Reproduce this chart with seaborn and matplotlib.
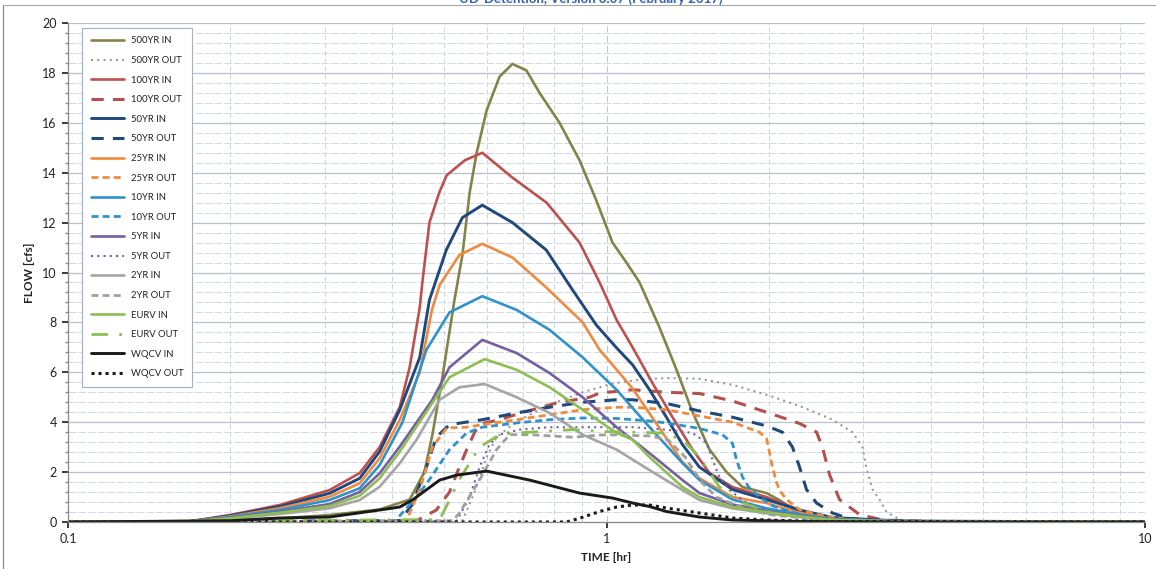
import matplotlib
matplotlib.use("Agg")
import matplotlib.pyplot as plt
import matplotlib.ticker as mticker
from matplotlib.lines import Line2D
import seaborn as sns

# inflow / outflow hydrographs (time in hr, flow in cfs)
t_500_in = [0.1, 0.2, 0.25, 0.306, 0.379, 0.431, 0.459, 0.475, 0.494, 0.522, 0.540, 0.557, 0.574, 0.599, 0.633, 0.669, 0.710, 0.751, 0.818, 0.891, 0.957, 1.026, 1.089, 1.152, 1.254, 1.349, 1.445, 1.554, 1.671, 1.789, 1.982, 2.095, 2.283, 2.629, 3.5, 10]
q_500_in = [0, 0.05, 0.15, 0.28, 0.5, 0.9, 2.0, 3.5, 5.6, 8.9, 10.7, 13.2, 14.8, 16.5, 17.85, 18.36, 18.1, 17.2, 16.0, 14.5, 12.9, 11.2, 10.4, 9.6, 7.8, 6.1, 4.4, 2.9, 2.0, 1.4, 1.16, 0.88, 0.36, 0.1, 0.02, 0]
t_500_out = [0.1, 0.540, 0.569, 0.599, 0.625, 0.669, 0.720, 0.807, 0.903, 1.026, 1.166, 1.292, 1.488, 1.714, 1.982, 2.283, 2.629, 2.863, 2.988, 3.040, 3.119, 3.214, 3.311, 3.501, 3.8, 10]
q_500_out = [0, 0.05, 1.2, 2.6, 3.4, 3.9, 4.3, 4.8, 5.2, 5.55, 5.72, 5.77, 5.74, 5.5, 5.1, 4.65, 4.1, 3.6, 3.0, 2.15, 1.3, 0.9, 0.4, 0.1, 0.03, 0]

t_100_in = [0.1, 0.168, 0.2, 0.247, 0.306, 0.348, 0.379, 0.413, 0.431, 0.450, 0.455, 0.469, 0.489, 0.505, 0.546, 0.588, 0.669, 0.774, 0.891, 0.971, 1.044, 1.118, 1.217, 1.326, 1.445, 1.554, 1.714, 1.982, 2.283, 2.629, 3.5, 10]
q_100_in = [0, 0.02, 0.28, 0.68, 1.28, 1.96, 3.0, 4.6, 6.2, 8.6, 9.6, 12.0, 13.2, 13.9, 14.5, 14.8, 13.8, 12.8, 11.2, 9.6, 8.1, 7.0, 5.57, 4.2, 2.9, 1.96, 1.4, 1.0, 0.48, 0.16, 0.03, 0]
t_100_out = [0.1, 0.444, 0.483, 0.511, 0.533, 0.550, 0.569, 0.588, 0.633, 0.689, 0.807, 0.930, 0.971, 1.118, 1.292, 1.488, 1.714, 1.982, 2.283, 2.455, 2.518, 2.595, 2.708, 2.950, 3.256, 4.0, 10]
q_100_out = [0, 0.05, 0.48, 1.2, 2.2, 2.9, 3.6, 3.95, 4.1, 4.35, 4.77, 5.0, 5.17, 5.3, 5.2, 5.15, 4.85, 4.4, 3.95, 3.6, 3.0, 1.9, 0.9, 0.3, 0.08, 0.02, 0]

t_50_in = [0.1, 0.168, 0.2, 0.247, 0.306, 0.348, 0.379, 0.413, 0.450, 0.469, 0.504, 0.540, 0.588, 0.669, 0.773, 0.865, 0.957, 1.042, 1.118, 1.202, 1.292, 1.384, 1.488, 1.714, 1.982, 2.283, 2.629, 3.5, 10]
q_50_in = [0, 0.02, 0.25, 0.62, 1.15, 1.75, 2.82, 4.49, 6.6, 8.9, 10.9, 12.2, 12.7, 12.0, 10.9, 9.3, 7.9, 7.0, 6.3, 5.3, 4.2, 3.1, 2.2, 1.3, 0.9, 0.48, 0.18, 0.04, 0]
t_50_out = [0.1, 0.413, 0.436, 0.463, 0.483, 0.511, 0.588, 0.681, 0.784, 0.903, 1.044, 1.118, 1.292, 1.488, 1.714, 1.982, 2.122, 2.215, 2.283, 2.352, 2.455, 2.629, 2.8, 3.1, 4.0, 10]
q_50_out = [0, 0.05, 0.7, 2.2, 3.4, 3.9, 4.1, 4.37, 4.6, 4.8, 4.9, 4.9, 4.75, 4.45, 4.2, 3.85, 3.6, 3.0, 2.2, 1.3, 0.76, 0.36, 0.16, 0.05, 0.01, 0]

t_25_in = [0.1, 0.168, 0.2, 0.247, 0.306, 0.348, 0.379, 0.413, 0.450, 0.474, 0.490, 0.533, 0.588, 0.669, 0.773, 0.903, 0.971, 1.026, 1.118, 1.202, 1.292, 1.384, 1.488, 1.714, 1.982, 2.283, 2.629, 3.5, 10]
q_25_in = [0, 0.02, 0.22, 0.55, 1.01, 1.55, 2.55, 4.09, 6.0, 8.5, 9.5, 10.7, 11.15, 10.6, 9.4, 8.0, 6.9, 6.3, 5.35, 4.35, 3.35, 2.4, 1.75, 1.0, 0.76, 0.36, 0.12, 0.02, 0]
t_25_out = [0.1, 0.425, 0.450, 0.475, 0.505, 0.550, 0.588, 0.681, 0.784, 0.903, 1.044, 1.118, 1.292, 1.488, 1.714, 1.923, 1.982, 2.007, 2.033, 2.068, 2.095, 2.159, 2.283, 2.487, 2.827, 3.5, 10]
q_25_out = [0, 0.05, 1.3, 3.0, 3.77, 3.8, 3.9, 4.1, 4.3, 4.5, 4.6, 4.6, 4.5, 4.25, 4.0, 3.6, 3.35, 2.8, 2.2, 1.6, 1.28, 0.9, 0.5, 0.28, 0.08, 0.02, 0]

t_10_in = [0.1, 0.168, 0.2, 0.247, 0.306, 0.348, 0.379, 0.418, 0.463, 0.511, 0.588, 0.681, 0.784, 0.903, 1.044, 1.202, 1.384, 1.488, 1.714, 1.982, 2.283, 2.629, 3.5, 10]
q_10_in = [0, 0.02, 0.2, 0.48, 0.88, 1.35, 2.28, 4.0, 6.9, 8.4, 9.05, 8.5, 7.7, 6.6, 5.3, 3.8, 2.36, 1.68, 0.9, 0.55, 0.3, 0.12, 0.03, 0]
t_10_out = [0.1, 0.404, 0.444, 0.469, 0.511, 0.550, 0.588, 0.681, 0.784, 0.903, 1.044, 1.202, 1.292, 1.488, 1.642, 1.714, 1.743, 1.789, 1.844, 1.923, 2.033, 2.187, 2.455, 2.8, 3.5, 10]
q_10_out = [0, 0.02, 1.0, 1.7, 2.9, 3.57, 3.8, 3.97, 4.1, 4.17, 4.15, 4.05, 3.97, 3.75, 3.5, 3.15, 2.5, 1.8, 1.35, 1.0, 0.65, 0.42, 0.16, 0.05, 0.01, 0]

t_5_in = [0.1, 0.168, 0.2, 0.247, 0.306, 0.348, 0.379, 0.413, 0.475, 0.511, 0.588, 0.681, 0.784, 0.903, 1.044, 1.202, 1.384, 1.488, 1.714, 1.982, 2.283, 2.629, 3.5, 10]
q_5_in = [0, 0.02, 0.17, 0.41, 0.72, 1.2, 1.95, 3.02, 4.9, 6.2, 7.3, 6.77, 5.97, 5.0, 3.8, 2.76, 1.68, 1.16, 0.7, 0.45, 0.25, 0.1, 0.02, 0]
t_5_out = [0.1, 0.527, 0.557, 0.581, 0.606, 0.633, 0.689, 0.784, 1.0, 1.118, 1.292, 1.445, 1.533, 1.573, 1.621, 1.692, 1.82, 2.033, 2.4, 3.0, 10]
q_5_out = [0, 0.05, 1.0, 2.2, 3.1, 3.5, 3.7, 3.8, 3.8, 3.8, 3.7, 3.57, 3.17, 2.5, 1.8, 1.28, 0.76, 0.36, 0.12, 0.03, 0]

t_2_in = [0.1, 0.168, 0.2, 0.247, 0.306, 0.348, 0.379, 0.413, 0.444, 0.490, 0.533, 0.594, 0.681, 0.784, 0.903, 1.044, 1.202, 1.384, 1.488, 1.714, 1.982, 2.283, 2.629, 3.5, 10]
q_2_in = [0, 0.02, 0.13, 0.32, 0.55, 0.88, 1.41, 2.35, 3.3, 4.9, 5.4, 5.53, 5.0, 4.37, 3.5, 2.9, 2.08, 1.28, 0.88, 0.55, 0.35, 0.2, 0.08, 0.02, 0]
t_2_out = [0.1, 0.518, 0.533, 0.581, 0.625, 0.661, 0.720, 0.865, 1.0, 1.2, 1.3, 1.4, 1.5, 1.6, 1.8, 2.0, 2.5, 3.0, 10]
q_2_out = [0, 0.05, 0.36, 1.68, 2.9, 3.5, 3.5, 3.4, 3.5, 3.45, 3.3, 2.6, 1.6, 1.0, 0.55, 0.3, 0.08, 0.02, 0]

t_eurv_in = [0.1, 0.168, 0.2, 0.247, 0.306, 0.348, 0.379, 0.413, 0.469, 0.511, 0.594, 0.681, 0.784, 0.903, 1.044, 1.118, 1.202, 1.384, 1.488, 1.714, 1.982, 2.283, 2.629, 3.5, 10]
q_eurv_in = [0, 0.02, 0.15, 0.37, 0.64, 1.05, 1.75, 2.82, 4.6, 5.8, 6.53, 6.1, 5.4, 4.5, 3.57, 3.3, 2.6, 1.4, 1.0, 0.6, 0.4, 0.22, 0.08, 0.02, 0]
t_eurv_out = [0.1, 0.490, 0.511, 0.533, 0.581, 0.633, 0.661, 0.720, 0.865, 1.0, 1.270, 1.384, 1.488, 1.621, 1.766, 2.033, 2.5, 3.0, 10]
q_eurv_out = [0, 0.1, 0.88, 1.7, 3.0, 3.5, 3.55, 3.6, 3.7, 3.62, 3.57, 3.3, 2.6, 1.4, 0.8, 0.36, 0.1, 0.02, 0]

t_wqcv_in = [0.1, 0.2, 0.247, 0.306, 0.379, 0.413, 0.436, 0.490, 0.527, 0.599, 0.720, 0.891, 1.026, 1.118, 1.202, 1.292, 1.488, 1.714, 2.283, 3.5, 10]
q_wqcv_in = [0, 0.05, 0.16, 0.2, 0.48, 0.6, 0.88, 1.68, 1.88, 2.04, 1.68, 1.16, 0.96, 0.76, 0.62, 0.42, 0.2, 0.08, 0.02, 0, 0]
t_wqcv_out = [0.1, 0.843, 0.891, 0.971, 1.044, 1.118, 1.202, 1.292, 1.488, 1.714, 1.982, 2.5, 10]
q_wqcv_out = [0, 0, 0.15, 0.42, 0.6, 0.68, 0.68, 0.56, 0.36, 0.16, 0.08, 0.02, 0]

series = [
    ("500YR IN", t_500_in, q_500_in),
    ("500YR OUT", t_500_out, q_500_out),
    ("100YR IN", t_100_in, q_100_in),
    ("100YR OUT", t_100_out, q_100_out),
    ("50YR IN", t_50_in, q_50_in),
    ("50YR OUT", t_50_out, q_50_out),
    ("25YR IN", t_25_in, q_25_in),
    ("25YR OUT", t_25_out, q_25_out),
    ("10YR IN", t_10_in, q_10_in),
    ("10YR OUT", t_10_out, q_10_out),
    ("5YR IN", t_5_in, q_5_in),
    ("5YR OUT", t_5_out, q_5_out),
    ("2YR IN", t_2_in, q_2_in),
    ("2YR OUT", t_2_out, q_2_out),
    ("EURV IN", t_eurv_in, q_eurv_in),
    ("EURV OUT", t_eurv_out, q_eurv_out),
    ("WQCV IN", t_wqcv_in, q_wqcv_in),
    ("WQCV OUT", t_wqcv_out, q_wqcv_out),
]

dot = (0, (1, 2))
dash_long = (0, (4, 3))
dash_short = (0, (2.5, 1.5))
styles = {
    "500YR IN": dict(color="#848449", linestyle="-", linewidth=1.9),
    "500YR OUT": dict(color="#9A9A9A", linestyle=dot, linewidth=1.5),
    "100YR IN": dict(color="#C0504D", linestyle="-", linewidth=1.9),
    "100YR OUT": dict(color="#B5504D", linestyle=dash_long, linewidth=2.2),
    "50YR IN": dict(color="#1F497D", linestyle="-", linewidth=2.1),
    "50YR OUT": dict(color="#1F497D", linestyle=dash_long, linewidth=2.2),
    "25YR IN": dict(color="#F08A3E", linestyle="-", linewidth=1.9),
    "25YR OUT": dict(color="#F08A3E", linestyle=dash_short, linewidth=2.0),
    "10YR IN": dict(color="#2E93CD", linestyle="-", linewidth=1.9),
    "10YR OUT": dict(color="#2E93CD", linestyle=dash_short, linewidth=2.0),
    "5YR IN": dict(color="#7460A0", linestyle="-", linewidth=1.9),
    "5YR OUT": dict(color="#7460A0", linestyle=dot, linewidth=1.5),
    "2YR IN": dict(color="#A5A5A5", linestyle="-", linewidth=1.9),
    "2YR OUT": dict(color="#A0A0A0", linestyle=dash_short, linewidth=2.0),
    "EURV IN": dict(color="#8DBE52", linestyle="-", linewidth=1.9),
    "EURV OUT": dict(color="#8DBE52", linestyle=(0, (6, 4, 1, 4)), linewidth=2.0),
    "WQCV IN": dict(color="#1A1A1A", linestyle="-", linewidth=2.1),
    "WQCV OUT": dict(color="#1A1A1A", linestyle=(0, (1, 1.3)), linewidth=2.2),
}

sns.set_theme(style="white")
plt.rcParams['font.family'] = ['Lato', 'DejaVu Sans']

fig = plt.figure(figsize=(11.56, 5.69), dpi=100)
ax = fig.add_axes([68 / 1156, 47 / 569, 1077 / 1156, 499 / 569])
ax.set_xscale("log")

for label, t, q in series:
    sns.lineplot(x=t, y=q, ax=ax, label=label, errorbar=None,
                 solid_joinstyle="round", dash_joinstyle="round", **styles[label])

ax.set_xlim(0.1, 10)
ax.set_ylim(0, 20)
ax.xaxis.set_major_locator(mticker.FixedLocator([0.1, 1, 10]))
ax.xaxis.set_major_formatter(mticker.FuncFormatter(lambda v, _: f"{v:g}"))
ax.xaxis.set_minor_locator(mticker.LogLocator(base=10, subs=range(2, 10)))
ax.xaxis.set_minor_formatter(mticker.NullFormatter())
ax.yaxis.set_major_locator(mticker.MultipleLocator(2))
ax.yaxis.set_minor_locator(mticker.MultipleLocator(0.4))

ax.grid(which="major", axis="y", color="#B9C0CB", linewidth=0.9)
ax.grid(which="minor", axis="y", color="#D4DAE3", linewidth=0.7, linestyle=(0, (8, 2)))
ax.grid(which="major", axis="x", color="#C2C9D4", linewidth=0.8, linestyle=(0, (6, 3)))
ax.grid(which="minor", axis="x", color="#CDD4DE", linewidth=0.7, linestyle=(0, (5, 3)))
ax.set_axisbelow(True)

for side in ["top", "right"]:
    ax.spines[side].set_visible(False)
for side in ["left", "bottom"]:
    ax.spines[side].set_color("#8A8A8A")
    ax.spines[side].set_linewidth(0.9)

ax.tick_params(axis="both", which="major", labelsize=9, colors="#222222", length=4,
               direction="out", left=True, bottom=True, pad=4)
ax.tick_params(axis="y", which="minor", length=2, left=True, color="#8A8A8A")
ax.tick_params(axis="x", which="minor", length=0)

ax.set_xlabel("TIME [hr]", fontsize=8.5, fontweight="bold", color="#222222", labelpad=5)
ax.set_ylabel("FLOW [cfs]", fontsize=8.5, fontweight="bold", color="#222222", labelpad=5)

leg = ax.legend(loc="upper left", bbox_to_anchor=(0.013, 0.99), borderaxespad=0,
                fontsize=6.8, handlelength=3.5, handletextpad=0.8, labelspacing=1.12,
                borderpad=0.9, frameon=True, fancybox=False, framealpha=1,
                edgecolor="#9FB0C8")
leg.get_frame().set_linewidth(0.8)
for txt in leg.get_texts():
    txt.set_color("#222222")

# title sits at the very top edge, clipped as in the source sheet
fig.text(0.511, 1 - 3 / 569, "UD-Detention, Version 3.07 (February 2017)",
         ha="center", va="baseline", color="#2E63B0", fontsize=9.5, fontweight="bold")

# chart-area frame of the original sheet
fig.add_artist(Line2D([3 / 1156, 3 / 1156], [0, 1 - 4.5 / 569], color="#8C8C8C", linewidth=0.9))
fig.add_artist(Line2D([3 / 1156, 1], [1 - 4.5 / 569, 1 - 4.5 / 569], color="#A8A8A8", linewidth=0.8))

fig.savefig("out.png", dpi=100)
